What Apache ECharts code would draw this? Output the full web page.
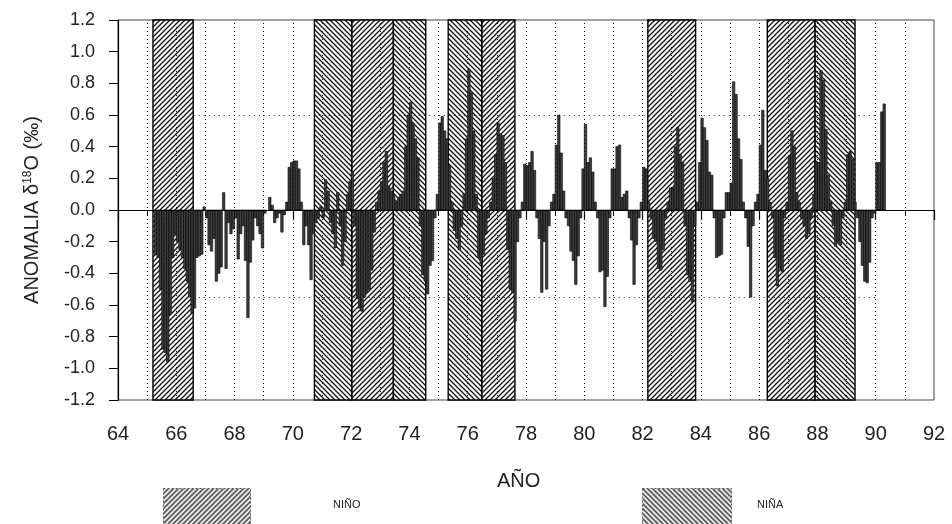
<!DOCTYPE html>
<html>
<head>
<meta charset="utf-8">
<script src="https://cdn.jsdelivr.net/npm/echarts@6/dist/echarts.min.js"></script>
<style>
html,body{margin:0;padding:0;background:#fff;}
#c{width:952px;height:524px;}
</style>
</head>
<body>
<div id="c"></div>
<script>
// ---- DATA ----
const firstYear = 65;           // 1965 (axis shows two-digit years)
const xTicks = [64,66,68,70,72,74,76,78,80,82,84,86,88,90,92];
const yearGrid = [65,66,67,68,69,70,71,72,73,74,75,76,77,78,79,80,81,82,83,84,85,86,87,88,89,90,91];
const yTicks = [-1.2,-1.0,-0.8,-0.6,-0.4,-0.2,0,0.2,0.4,0.6,0.8,1.0,1.2];
// monthly δ18O anomaly (‰), Jan..Dec
const a65 = [null,null,null,-0.28,-0.30,-0.50,-0.88,-0.90,-0.96,-0.66,-0.30,-0.15];
const a66 = [-0.20,-0.25,-0.30,-0.37,-0.45,-0.55,-0.65,-0.62,-0.30,-0.29,-0.28,0.02];
const a67 = [-0.05,-0.22,-0.26,-0.18,-0.45,-0.40,-0.36,0.11,-0.37,-0.08,-0.15,-0.12];
const a68 = [-0.05,-0.31,-0.15,-0.10,-0.32,-0.68,-0.33,-0.19,-0.05,-0.10,-0.15,-0.24];
const a69 = [-0.02,null,0.08,0.03,-0.08,-0.05,-0.02,-0.14,-0.03,0.05,0.27,0.30];
const a70 = [0.31,0.31,0.26,0.05,-0.22,-0.10,-0.22,-0.44,-0.15,-0.08,-0.05,0.02];
const a71 = [-0.05,0.19,0.12,-0.08,-0.15,-0.24,0.11,-0.10,-0.35,-0.20,0.10,0.18];
const a72 = [0.24,-0.10,-0.56,-0.62,-0.64,-0.55,-0.52,-0.50,-0.38,-0.14,0.05,0.12];
const a73 = [0.18,0.30,0.37,0.15,0.12,0.10,0.05,0.08,0.10,0.12,0.40,0.60];
const a74 = [0.68,0.55,0.45,0.33,-0.10,-0.41,-0.45,-0.53,-0.35,-0.32,-0.05,0.10];
const a75 = [0.55,0.59,0.50,0.45,0.28,0.05,-0.13,-0.18,-0.25,-0.10,0.10,0.45];
const a76 = [0.89,0.74,0.50,0.10,-0.30,-0.34,-0.28,-0.15,-0.05,0.05,0.20,0.35];
const a77 = [0.55,0.48,0.47,0.30,-0.25,-0.50,-0.52,-0.70,-0.20,-0.05,0.05,0.29];
const a78 = [0.28,0.30,0.37,0.25,-0.05,-0.18,-0.52,-0.20,-0.50,-0.10,0.05,0.10];
const a79 = [0.41,0.60,0.36,0.12,-0.05,-0.10,-0.26,-0.32,-0.47,-0.29,-0.05,0.26];
const a80 = [0.54,0.30,0.33,0.24,0.05,-0.05,-0.39,-0.38,-0.61,-0.42,-0.05,0.26];
const a81 = [0.26,0.40,0.41,0.08,0.10,0.12,-0.05,-0.19,-0.47,-0.22,-0.05,0.05];
const a82 = [0.27,0.26,0.05,-0.05,-0.18,-0.20,-0.37,-0.38,-0.25,-0.05,0.05,0.14];
const a83 = [0.14,0.40,0.52,0.35,0.30,-0.10,-0.41,-0.45,-0.58,-0.10,0.05,0.30];
const a84 = [0.58,0.52,0.44,0.24,0.22,-0.05,-0.30,-0.29,-0.28,-0.05,0.11,0.11];
const a85 = [0.17,0.81,0.73,0.45,0.32,0.05,-0.05,-0.23,-0.55,-0.10,0.05,0.10];
const a86 = [0.41,0.63,0.25,0.20,0.05,-0.05,-0.30,-0.48,-0.37,-0.39,-0.05,0.05];
const a87 = [0.34,0.50,0.40,0.11,0.05,-0.05,-0.10,-0.18,-0.15,-0.05,0.10,0.30];
const a88 = [0.30,0.88,0.82,0.51,0.22,0.05,-0.10,-0.23,-0.20,-0.22,-0.05,0.05];
const a89 = [0.35,0.37,0.32,0.05,-0.05,-0.20,-0.35,-0.45,-0.46,-0.33,-0.05,-0.02];
const a90 = [0.30,0.30,0.62,0.67,null,null,null,null,null,null,null,null];
const yearlyAnomalies = [a65,a66,a67,a68,a69,a70,a71,a72,a73,a74,a75,a76,a77,a78,a79,a80,a81,a82,a83,a84,a85,a86,a87,a88,a89,a90];
// ENSO periods (years, two-digit)
const ninoPeriods = [[65.2,66.58],[72.02,73.45],[76.48,77.62],[82.18,83.82],[86.28,87.92]];
const ninaPeriods = [[70.74,72.02],[73.45,74.56],[75.33,76.48],[87.92,89.29]];
const refLines = [0.6,-0.55];

// ---- BUILD ----
const barData = [];
yearlyAnomalies.forEach((arr, i) => {
  arr.forEach((v, m) => {
    if (v !== null) barData.push([firstYear + i + (m + 0.5) / 12, v]);
  });
});

function hatch(forward) {
  const s = 5, c = document.createElement('canvas');
  c.width = s; c.height = s;
  const g = c.getContext('2d');
  g.fillStyle = '#fff'; g.fillRect(0, 0, s, s);
  g.strokeStyle = '#111'; g.lineWidth = 1.3;
  g.beginPath();
  if (forward) {
    g.moveTo(-1, s + 1); g.lineTo(s + 1, -1);
    g.moveTo(-2, 2); g.lineTo(2, -2);
    g.moveTo(s - 2, s + 2); g.lineTo(s + 2, s - 2);
  } else {
    g.moveTo(-1, -1); g.lineTo(s + 1, s + 1);
    g.moveTo(-2, s - 2); g.lineTo(2, s + 2);
    g.moveTo(s - 2, -2); g.lineTo(s + 2, 2);
  }
  g.stroke();
  return c;
}
const ninoPat = { image: hatch(true), repeat: 'repeat' };
const ninaPat = { image: hatch(false), repeat: 'repeat' };

const sans = "'Liberation Sans',Arial,sans-serif";

const areaData = [];
ninoPeriods.forEach(p => areaData.push([{ xAxis: p[0], itemStyle: { color: ninoPat } }, { xAxis: p[1] }]));
ninaPeriods.forEach(p => areaData.push([{ xAxis: p[0], itemStyle: { color: ninaPat } }, { xAxis: p[1] }]));

const chart = echarts.init(document.getElementById('c'), null, { renderer: 'canvas' });
chart.setOption({
  animation: false,
  backgroundColor: '#fff',
  grid: { left: 118, right: 18, top: 20, bottom: 124, show: true, borderColor: '#444', borderWidth: 1 },
  xAxis: {
    type: 'value', min: 64, max: 92, interval: 2,
    axisLine: { show: true, lineStyle: { color: '#000', width: 1.2 } },
    axisTick: { show: true, length: 10, lineStyle: { color: '#000', width: 1.2 } },
    minorTick: { show: true, splitNumber: 2, length: 5, lineStyle: { color: '#000', width: 1 } },
    splitLine: { show: false },
    axisLabel: { margin: 24, fontSize: 20, fontFamily: sans, color: '#222', formatter: v => String(v) }
  },
  yAxis: {
    type: 'value', min: -1.2, max: 1.2, interval: 0.2,
    name: 'ANOMALIA δ{sup|18}O (‰)',
    nameLocation: 'middle', nameGap: 76, nameRotate: 90,
    nameTextStyle: { fontSize: 20, fontFamily: sans, color: '#222',
      rich: { sup: { fontSize: 12, fontFamily: sans, color: '#222', verticalAlign: 'top' } } },
    axisLine: { show: true, lineStyle: { color: '#000', width: 1.2 } },
    axisTick: { show: true, length: 9, lineStyle: { color: '#000', width: 1 } },
    splitLine: { show: false },
    axisLabel: { margin: 23, fontSize: 18, fontFamily: sans, color: '#222',
      formatter: v => (Math.abs(v) < 1e-9 ? 0 : v).toFixed(1) }
  },
  series: [
    {
      name: 'ref', type: 'line', data: [], z: 1, silent: true,
      markLine: {
        silent: true, symbol: 'none', label: { show: false },
        lineStyle: { color: '#222', type: [1, 4], width: 1 },
        data: refLines.map(y => [{ coord: [66.6, y] }, { coord: [90, y] }])
      }
    },
    {
      name: 'enso', type: 'line', data: [], z: 2, silent: true,
      markArea: {
        silent: true,
        itemStyle: { borderColor: '#000', borderWidth: 1.4, opacity: 1 },
        data: areaData
      }
    },
    {
      name: 'yeargrid', type: 'line', data: [], z: 3, silent: true,
      markLine: {
        silent: true, symbol: 'none', label: { show: false },
        lineStyle: { color: '#111', type: [1, 3], width: 1 },
        data: yearGrid.map(x => ({ xAxis: x }))
      }
    },
    {
      name: 'anomaly', type: 'custom', z: 4, silent: true,
      data: barData,
      encode: { x: 0, y: 1 },
      renderItem: function (params, api) {
        const x = api.value(0), v = api.value(1);
        const p0 = api.coord([x - 1 / 24, v]);
        const p1 = api.coord([x + 1 / 24, 0]);
        return {
          type: 'rect',
          shape: { x: p0[0], y: Math.min(p0[1], p1[1]), width: p1[0] - p0[0], height: Math.abs(p1[1] - p0[1]) },
          style: { fill: '#3d3d3d', stroke: '#000', lineWidth: 0.6 }
        };
      }
    },
    {
      name: 'zero', type: 'line', data: [], z: 5, silent: true,
      markLine: {
        silent: true, symbol: 'none', label: { show: false },
        lineStyle: { color: '#000', type: 'solid', width: 1 },
        data: [{ yAxis: 0 }]
      }
    }
  ],
  graphic: [
    { type: 'rect', left: 163, top: 488, shape: { width: 87, height: 40 },
      style: { fill: ninoPat, stroke: '#555', lineWidth: 1, lineDash: [2, 2] } },
    { type: 'text', left: 333, top: 499, style: { text: 'NIÑO', font: "11px " + sans, fill: '#222' } },
    { type: 'text', left: 497, top: 471, style: { text: 'AÑO', font: "20px " + sans, fill: '#222' } },
    { type: 'rect', left: 642, top: 488, shape: { width: 89, height: 40 },
      style: { fill: ninaPat, stroke: '#555', lineWidth: 1, lineDash: [2, 2] } },
    { type: 'text', left: 757, top: 499, style: { text: 'NIÑA', font: "11px " + sans, fill: '#222' } }
  ]
});
</script>
</body>
</html>
